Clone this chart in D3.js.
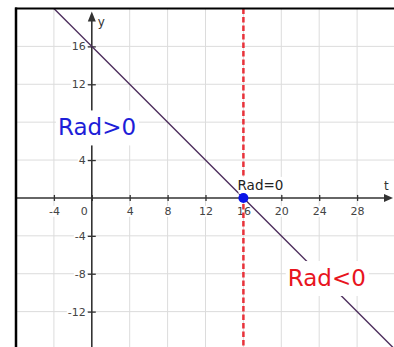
<!DOCTYPE html>
<html>
<head>
<meta charset="utf-8">
<script src="https://cdn.jsdelivr.net/npm/d3@7"></script>
<style>
  html, body { margin: 0; padding: 0; background: #fff; }
  svg { display: block; }
  text { font-family: "DejaVu Sans", Verdana, sans-serif; }
</style>
</head>
<body>
<script>
// Line y = 16 - t and the boundary where Rad changes sign
const lineT = [-4, 32];
const lineY = [20, -16];
const boundaryT = 16;
const zeroPoint = { t: 16, y: 0 };

const xTicks = [-4, 0, 4, 8, 12, 16, 20, 24, 28];
const yTicks = [16, 12, 4, -4, -8, -12];
const gridX = [-4, 4, 8, 12, 16, 20, 24, 28, 32];
const gridY = [16, 12, 8, 4, -4, -8, -12, -16];

const regionLabels = [
  { text: "Rad>0", t: 0.55, y: 6.6, color: "#1e1ed8", size: 23, padX: 3, padY: 5 },
  { text: "Rad<0", t: 24.8, y: -9.3, color: "#e8141e", size: 23, padX: 3, padY: 5 },
  { text: "Rad=0", t: 17.8, y: 0.85, color: "#222", size: 13.5, padX: 0, padY: 1 }
];

const W = 394, H = 347;
const svg = d3.select("body").append("svg").attr("width", W).attr("height", H);

const x = d3.scaleLinear().domain([-8, 32]).range([16, 395]);
const y = d3.scaleLinear().domain([-16, 20]).range([349.5, 8.5]);

// grid
svg.append("g").selectAll("line").data(gridX).join("line")
  .attr("x1", d => x(d)).attr("x2", d => x(d))
  .attr("y1", y(20)).attr("y2", H)
  .attr("stroke", "#dcdcdc").attr("stroke-width", 1);
svg.append("g").selectAll("line").data(gridY).join("line")
  .attr("y1", d => y(d)).attr("y2", d => y(d))
  .attr("x1", x(-8)).attr("x2", W)
  .attr("stroke", "#dcdcdc").attr("stroke-width", 1);

// axes
const axisColor = "#333";
const fmt = d => String(d);
const xAxis = svg.append("g").attr("transform", `translate(0,${y(0)})`)
  .call(d3.axisBottom(x).tickValues(xTicks).tickSize(3).tickFormat(fmt));
const yAxis = svg.append("g").attr("transform", `translate(${x(0)},0)`)
  .call(d3.axisLeft(y).tickValues(yTicks).tickSize(3).tickFormat(fmt));

xAxis.select(".domain").attr("d", `M${x(-8)},0H${W - 8}`).attr("stroke", axisColor).attr("stroke-width", 1.6);
yAxis.select(".domain").attr("d", `M0,${y(-16) + 5}V${y(20) + 12}`).attr("stroke", axisColor).attr("stroke-width", 1.6);

xAxis.selectAll(".tick line").attr("y1", -3).attr("y2", 3).attr("stroke", axisColor).attr("stroke-width", 1.3);
yAxis.selectAll(".tick line").attr("x1", -4).attr("x2", 4).attr("stroke", axisColor).attr("stroke-width", 1.3);

xAxis.selectAll(".tick text")
  .attr("y", 9).attr("font-size", 11).attr("fill", "#444")
  .attr("font-family", "DejaVu Sans, Verdana, sans-serif")
  .attr("x", d => d === 0 ? -8 : 0);
yAxis.selectAll(".tick text")
  .attr("x", -6).attr("font-size", 11).attr("fill", "#444")
  .attr("font-family", "DejaVu Sans, Verdana, sans-serif");

// white backing behind tick labels
[xAxis, yAxis].forEach(ax => {
  ax.selectAll(".tick").each(function () {
    const g = d3.select(this);
    const t = g.select("text").node();
    const b = t.getBBox();
    g.insert("rect", "text")
      .attr("x", b.x - 1).attr("y", b.y + 1).attr("width", b.width + 2).attr("height", b.height - 2)
      .attr("fill", "#fff");
  });
});

// arrowheads
svg.append("path")
  .attr("d", `M${W - 1},${y(0)} L${W - 10},${y(0) - 4} L${W - 10},${y(0) + 4} Z`)
  .attr("fill", axisColor);
svg.append("path")
  .attr("d", `M${x(0)},${y(20) + 3} L${x(0) - 4},${y(20) + 13} L${x(0) + 4},${y(20) + 13} Z`)
  .attr("fill", axisColor);

svg.append("text").attr("x", x(0) + 6).attr("y", y(20) + 17)
  .attr("font-size", 12).attr("fill", "#333").text("y");
svg.append("text").attr("x", x(32) - 11).attr("y", y(0) - 8)
  .attr("font-size", 12).attr("fill", "#333").text("t");

// boundary t = 16
svg.append("line")
  .attr("x1", x(boundaryT)).attr("x2", x(boundaryT))
  .attr("y1", y(20)).attr("y2", H)
  .attr("stroke", "#e8323a").attr("stroke-width", 2.5)
  .attr("stroke-dasharray", "5.5,3");

// the line y = 16 - t
const line = d3.line().x(d => x(d[0])).y(d => y(d[1]));
svg.append("path")
  .datum(lineT.map((t, i) => [t, lineY[i]]))
  .attr("d", line)
  .attr("fill", "none").attr("stroke", "#4e2f5e").attr("stroke-width", 1.4);

// region labels with white backing
regionLabels.forEach(l => {
  const g = svg.append("g");
  const t = g.append("text")
    .attr("x", x(l.t)).attr("y", y(l.y))
    .attr("text-anchor", "middle")
    .attr("font-size", l.size).attr("fill", l.color)
    .attr("font-family", "DejaVu Sans, Tahoma, sans-serif")
    .text(l.text);
  const b = t.node().getBBox();
  g.insert("rect", "text")
    .attr("x", b.x - l.padX + 1).attr("y", b.y + 1 - l.padY)
    .attr("width", b.width + 2 * l.padX - 1).attr("height", b.height - 1 + 2 * l.padY)
    .attr("fill", "#fff");
});

// point where Rad = 0
svg.append("circle")
  .attr("cx", x(zeroPoint.t)).attr("cy", y(zeroPoint.y))
  .attr("r", 5).attr("fill", "#0a14e8");

// frame edges
svg.append("line").attr("x1", x(-8)).attr("x2", x(-8)).attr("y1", y(20) - 1).attr("y2", H)
  .attr("stroke", "#000").attr("stroke-width", 2.5);
svg.append("line").attr("x1", x(-8) - 1).attr("x2", W).attr("y1", y(20)).attr("y2", y(20))
  .attr("stroke", "#000").attr("stroke-width", 2);
</script>
</body>
</html>
